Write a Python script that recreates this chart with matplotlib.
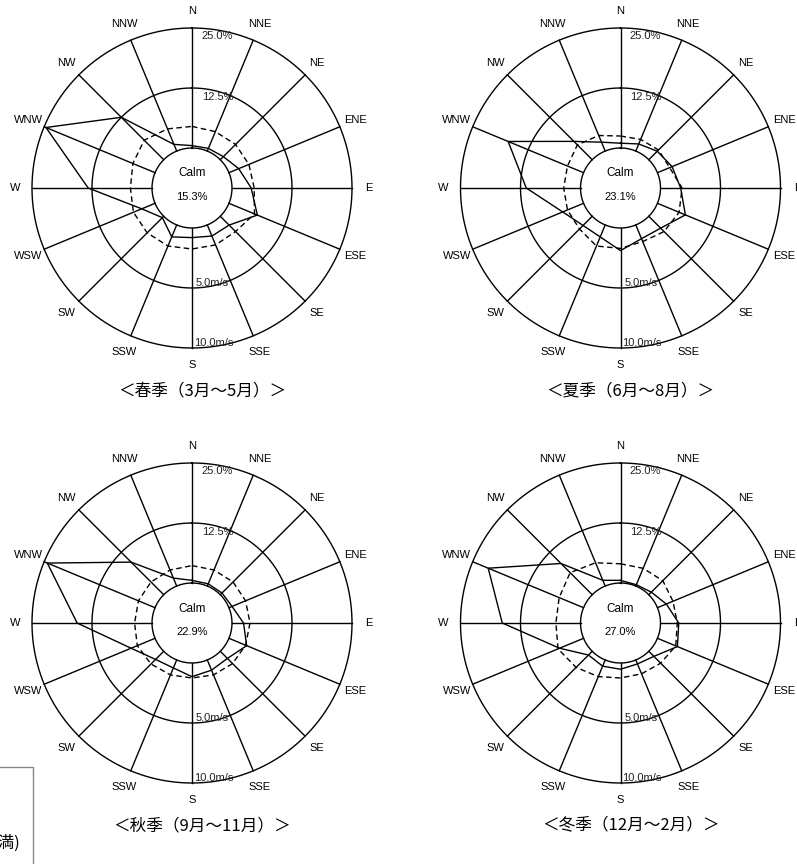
import numpy as np
import matplotlib
matplotlib.use('Agg')
import matplotlib.pyplot as plt
from matplotlib.patches import Rectangle

plt.rcParams['font.family'] = ['Liberation Sans', 'Noto Sans CJK JP', 'DejaVu Sans']

directions = ['N', 'NNE', 'NE', 'ENE', 'E', 'ESE', 'SE', 'SSE',
              'S', 'SSW', 'SW', 'WSW', 'W', 'WNW', 'NW', 'NNW']

season_titles = ['＜春季（3月～5月）＞', '＜夏季（6月～8月）＞',
                 '＜秋季（9月～11月）＞', '＜冬季（12月～2月）＞']
calm_rates = [15.3, 23.1, 22.9, 27.0]

# frequency of occurrence (%) per direction
freq_spring = [0.5, 0.6, 0.9, 2.2, 4.0, 6.4, 2.6, 2.5, 2.0, 2.7, 0.4, 3.0, 13.3, 24.6, 12.5, 1.5]
freq_summer = [1.0, 1.6, 2.5, 3.3, 4.2, 6.3, 3.5, 3.1, 4.7, 2.7, 2.7, 4.7, 11.3, 17.0, 5.4, 2.0]
freq_autumn = [0.55, 0.5, 0.5, 0.7, 2.4, 4.0, 2.1, 2.3, 2.85, 1.8, 2.4, 5.4, 15.6, 24.3, 9.6, 1.8]
freq_winter = [0.55, 0.3, 0.75, 2.0, 3.8, 4.5, 1.5, 0.9, 1.3, 1.4, 1.1, 5.4, 16.3, 21.5, 9.2, 1.3]

# mean wind speed (m/s) per direction
speed_spring = [1.8, 1.75, 1.8, 1.8, 1.85, 2.3, 1.8, 1.8, 1.75, 1.9, 1.95, 1.95, 1.8, 2.0, 2.3, 2.0]
speed_summer = [1.0, 1.05, 1.15, 1.1, 1.8, 1.95, 1.8, 1.5, 1.7, 1.9, 1.5, 1.45, 1.4, 1.45, 1.75, 1.4]
speed_autumn = [1.45, 1.45, 1.5, 1.5, 1.5, 1.5, 1.45, 1.35, 1.25, 1.35, 1.5, 1.6, 1.45, 1.5, 1.5, 1.45]
speed_winter = [1.6, 1.6, 1.65, 1.4, 1.4, 1.65, 1.4, 1.25, 1.25, 1.5, 1.9, 2.3, 2.05, 2.2, 2.6, 2.1]

freqs = [freq_spring, freq_summer, freq_autumn, freq_winter]
speeds = [speed_spring, speed_summer, speed_autumn, speed_winter]

W, H = 797, 864
fig = plt.figure(figsize=(W / 100, H / 100), dpi=100)

centers = [(192, 188), (620.5, 188), (192, 623), (620.5, 623)]
R = 160            # outer ring radius in pixels
FMAX = 25.0        # outer ring = 25 %
VMAX = 10.0        # outer ring = 10 m/s
RORIGIN = -FMAX / 3  # leaves the calm circle in the middle

theta = np.deg2rad(np.arange(16) * 22.5)
theta_c = np.append(theta, theta[0])
circ = np.linspace(0, 2 * np.pi, 400)

for i in range(4):
    cx, cy = centers[i]
    ax = fig.add_axes([(cx - R) / W, (H - cy - R) / H, 2 * R / W, 2 * R / H],
                      projection='polar')
    ax.set_theta_zero_location('N')
    ax.set_theta_direction(-1)
    ax.set_rorigin(RORIGIN)
    ax.set_ylim(0, FMAX)
    ax.set_axis_off()

    # rings and spokes
    for rr in (0, FMAX / 2, FMAX):
        ax.plot(circ, np.full_like(circ, rr), color='k', lw=1.0, clip_on=False)
    for t in theta:
        ax.plot([t, t], [0, FMAX], color='k', lw=1.0, clip_on=False)

    f = np.array(freqs[i])
    v = np.array(speeds[i]) * FMAX / VMAX
    ax.plot(theta_c, np.append(f, f[0]), color='k', lw=1.0, clip_on=False)
    ax.plot(theta_c, np.append(v, v[0]), color='k', lw=1.0, ls='--',
            dashes=(4, 2.5), clip_on=False)

    for t, d in zip(theta, directions):
        ax.text(t, 28.55, d, ha='center', va='center', fontsize=8)

    ax.annotate('25.0%', xy=(0, FMAX), xytext=(9, -8), textcoords='offset pixels',
                ha='left', va='center', fontsize=8, color='#222222')
    ax.annotate('12.5%', xy=(0, FMAX / 2), xytext=(10, -9), textcoords='offset pixels',
                ha='left', va='center', fontsize=8, color='#222222')
    ax.annotate('5.0m/s', xy=(np.pi, FMAX / 2), xytext=(4, 5), textcoords='offset pixels',
                ha='left', va='center', fontsize=8, color='#222222')
    ax.annotate('10.0m/s', xy=(np.pi, FMAX), xytext=(2, 5), textcoords='offset pixels',
                ha='left', va='center', fontsize=8, color='#222222')

    ax.text(0.5, 0.5 + 14.5 / (2 * R), 'Calm', transform=ax.transAxes,
            ha='center', va='center', fontsize=8.5)
    ax.text(0.5, 0.5 - 8.7 / (2 * R), '%.1f%%' % calm_rates[i], transform=ax.transAxes,
            ha='center', va='center', fontsize=8)

    fig.text((cx + 10) / W, 1 - (cy + 203) / H, season_titles[i],
             ha='center', va='center', fontsize=12, family=['Noto Sans CJK JP'])

# legend box at the lower left edge
fig.patches.append(Rectangle((-0.05, -0.05), 33 / W + 0.05, (H - 767) / H + 0.05,
                             fill=False, edgecolor='#888888', lw=1.0,
                             transform=fig.transFigure, figure=fig))
fig.text(20 / W, 1 - 843 / H, '静穏(0.4m/s未満)', ha='right', va='center',
         fontsize=12, family=['Noto Sans CJK JP'])

fig.savefig('out.png', dpi=100)
